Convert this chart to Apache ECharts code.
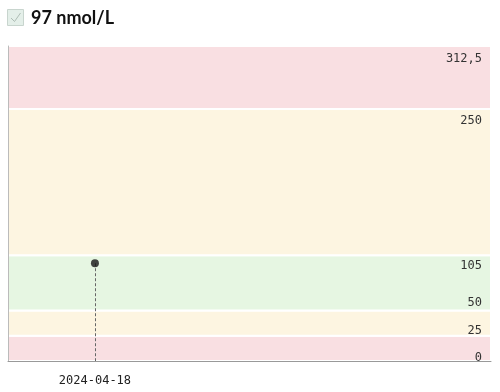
<!DOCTYPE html>
<html><head><meta charset="utf-8">
<script src="https://cdn.jsdelivr.net/npm/echarts@6/dist/echarts.min.js"></script>
<style>html,body{margin:0;padding:0;background:#fff}#c{width:500px;height:392px}</style>
</head><body><div id="c"></div><script>
const titleText = '97 nmol/L';
const dates = ['2024-04-18'];
const values = [97];
const xRange = ['2024-03-31', '2024-07-09'];
const bandRanges = [[0, 25], [25, 50], [50, 105], [105, 250], [250, 312.5]];
const bandKinds = ['red', 'yellow', 'green', 'yellow', 'red'];
const refValues = [0, 25, 50, 105, 250, 312.5];
const refLabels = ['0', '25', '50', '105', '250', '312,5'];
const yMin = 0, yMax = 312.5;

const bandColors = { red: '#f9dfe2', yellow: '#fdf5e1', green: '#e6f6e2' };
// label placement per reference line (style only)
const labelPlace = [
  ['insideEndTop', -2.5], ['insideEndTop', -1.5], ['insideEndTop', 2],
  ['insideEndBottom', 4.5], ['insideEndBottom', 6], ['insideEndBottom', 7]
];
const mono = 'DejaVu Sans Mono';

const chart = echarts.init(document.getElementById('c'), null, { renderer: 'canvas' });
const dateTs = dates.map(d => echarts.time.parse(d).getTime());
const tsToDate = {};
dates.forEach((d, i) => { tsToDate[dateTs[i]] = d; });

chart.setOption({
  animation: false,
  backgroundColor: '#fff',
  grid: { left: 8, right: 9, top: 46, bottom: 31 },
  graphic: [
    { type: 'rect', left: 7, top: 9, shape: { width: 16, height: 16 },
      style: { fill: '#e4efe9', stroke: '#c8d5ce', lineWidth: 1 } },
    { type: 'polyline', shape: { points: [[11, 18], [14.5, 21.5], [20.5, 13]] },
      style: { stroke: '#aebdb5', lineWidth: 1, fill: null } },
    { type: 'text', left: 31, top: 9,
      style: { text: titleText, font: 'bold 18px Lato', fill: '#111' } }
  ],
  xAxis: {
    type: 'value',
    z: 10,
    min: echarts.time.parse(xRange[0]).getTime(),
    max: echarts.time.parse(xRange[1]).getTime(),
    axisLine: { show: true, lineStyle: { color: '#999', width: 1 } },
    axisTick: { show: false },
    splitLine: { show: false },
    axisLabel: {
      customValues: dateTs,
      formatter: v => tsToDate[v] || echarts.time.format(v, '{yyyy}-{MM}-{dd}', false),
      fontFamily: mono, fontSize: 12, color: '#222', margin: 14
    }
  },
  yAxis: {
    type: 'value', min: yMin, max: yMax,
    z: 10,
    axisLine: { show: true, onZero: false, lineStyle: { color: '#bbb', width: 1 } },
    axisTick: { show: false },
    axisLabel: { show: false },
    splitLine: { show: false }
  },
  series: [{
    type: 'scatter',
    data: dates.map((d, i) => [dateTs[i], values[i]]),
    symbol: 'circle',
    symbolSize: 8,
    itemStyle: { color: '#151515' },
    z: 5,
    markArea: {
      silent: true,
      data: bandRanges.map((r, i) => [
        { yAxis: r[0], itemStyle: { color: bandColors[bandKinds[i]], borderColor: '#fff', borderWidth: 2 } },
        { yAxis: r[1] }
      ])
    },
    markLine: {
      silent: true,
      symbol: 'none',
      animation: false,
      data: refValues.map((v, i) => ({
        yAxis: v,
        name: refLabels[i],
        lineStyle: { color: 'rgba(0,0,0,0)', width: 0 },
        label: {
          show: true, formatter: '{b}', position: labelPlace[i][0],
          distance: [9, labelPlace[i][1]],
          fontFamily: mono, fontSize: 12, color: '#333'
        }
      })).concat(dates.map((d, i) => [
        { coord: [dateTs[i], values[i]], lineStyle: { color: '#666', width: 1, type: [3, 2] }, label: { show: false } },
        { coord: [dateTs[i], yMin] }
      ]))
    }
  }]
});
</script></body></html>
